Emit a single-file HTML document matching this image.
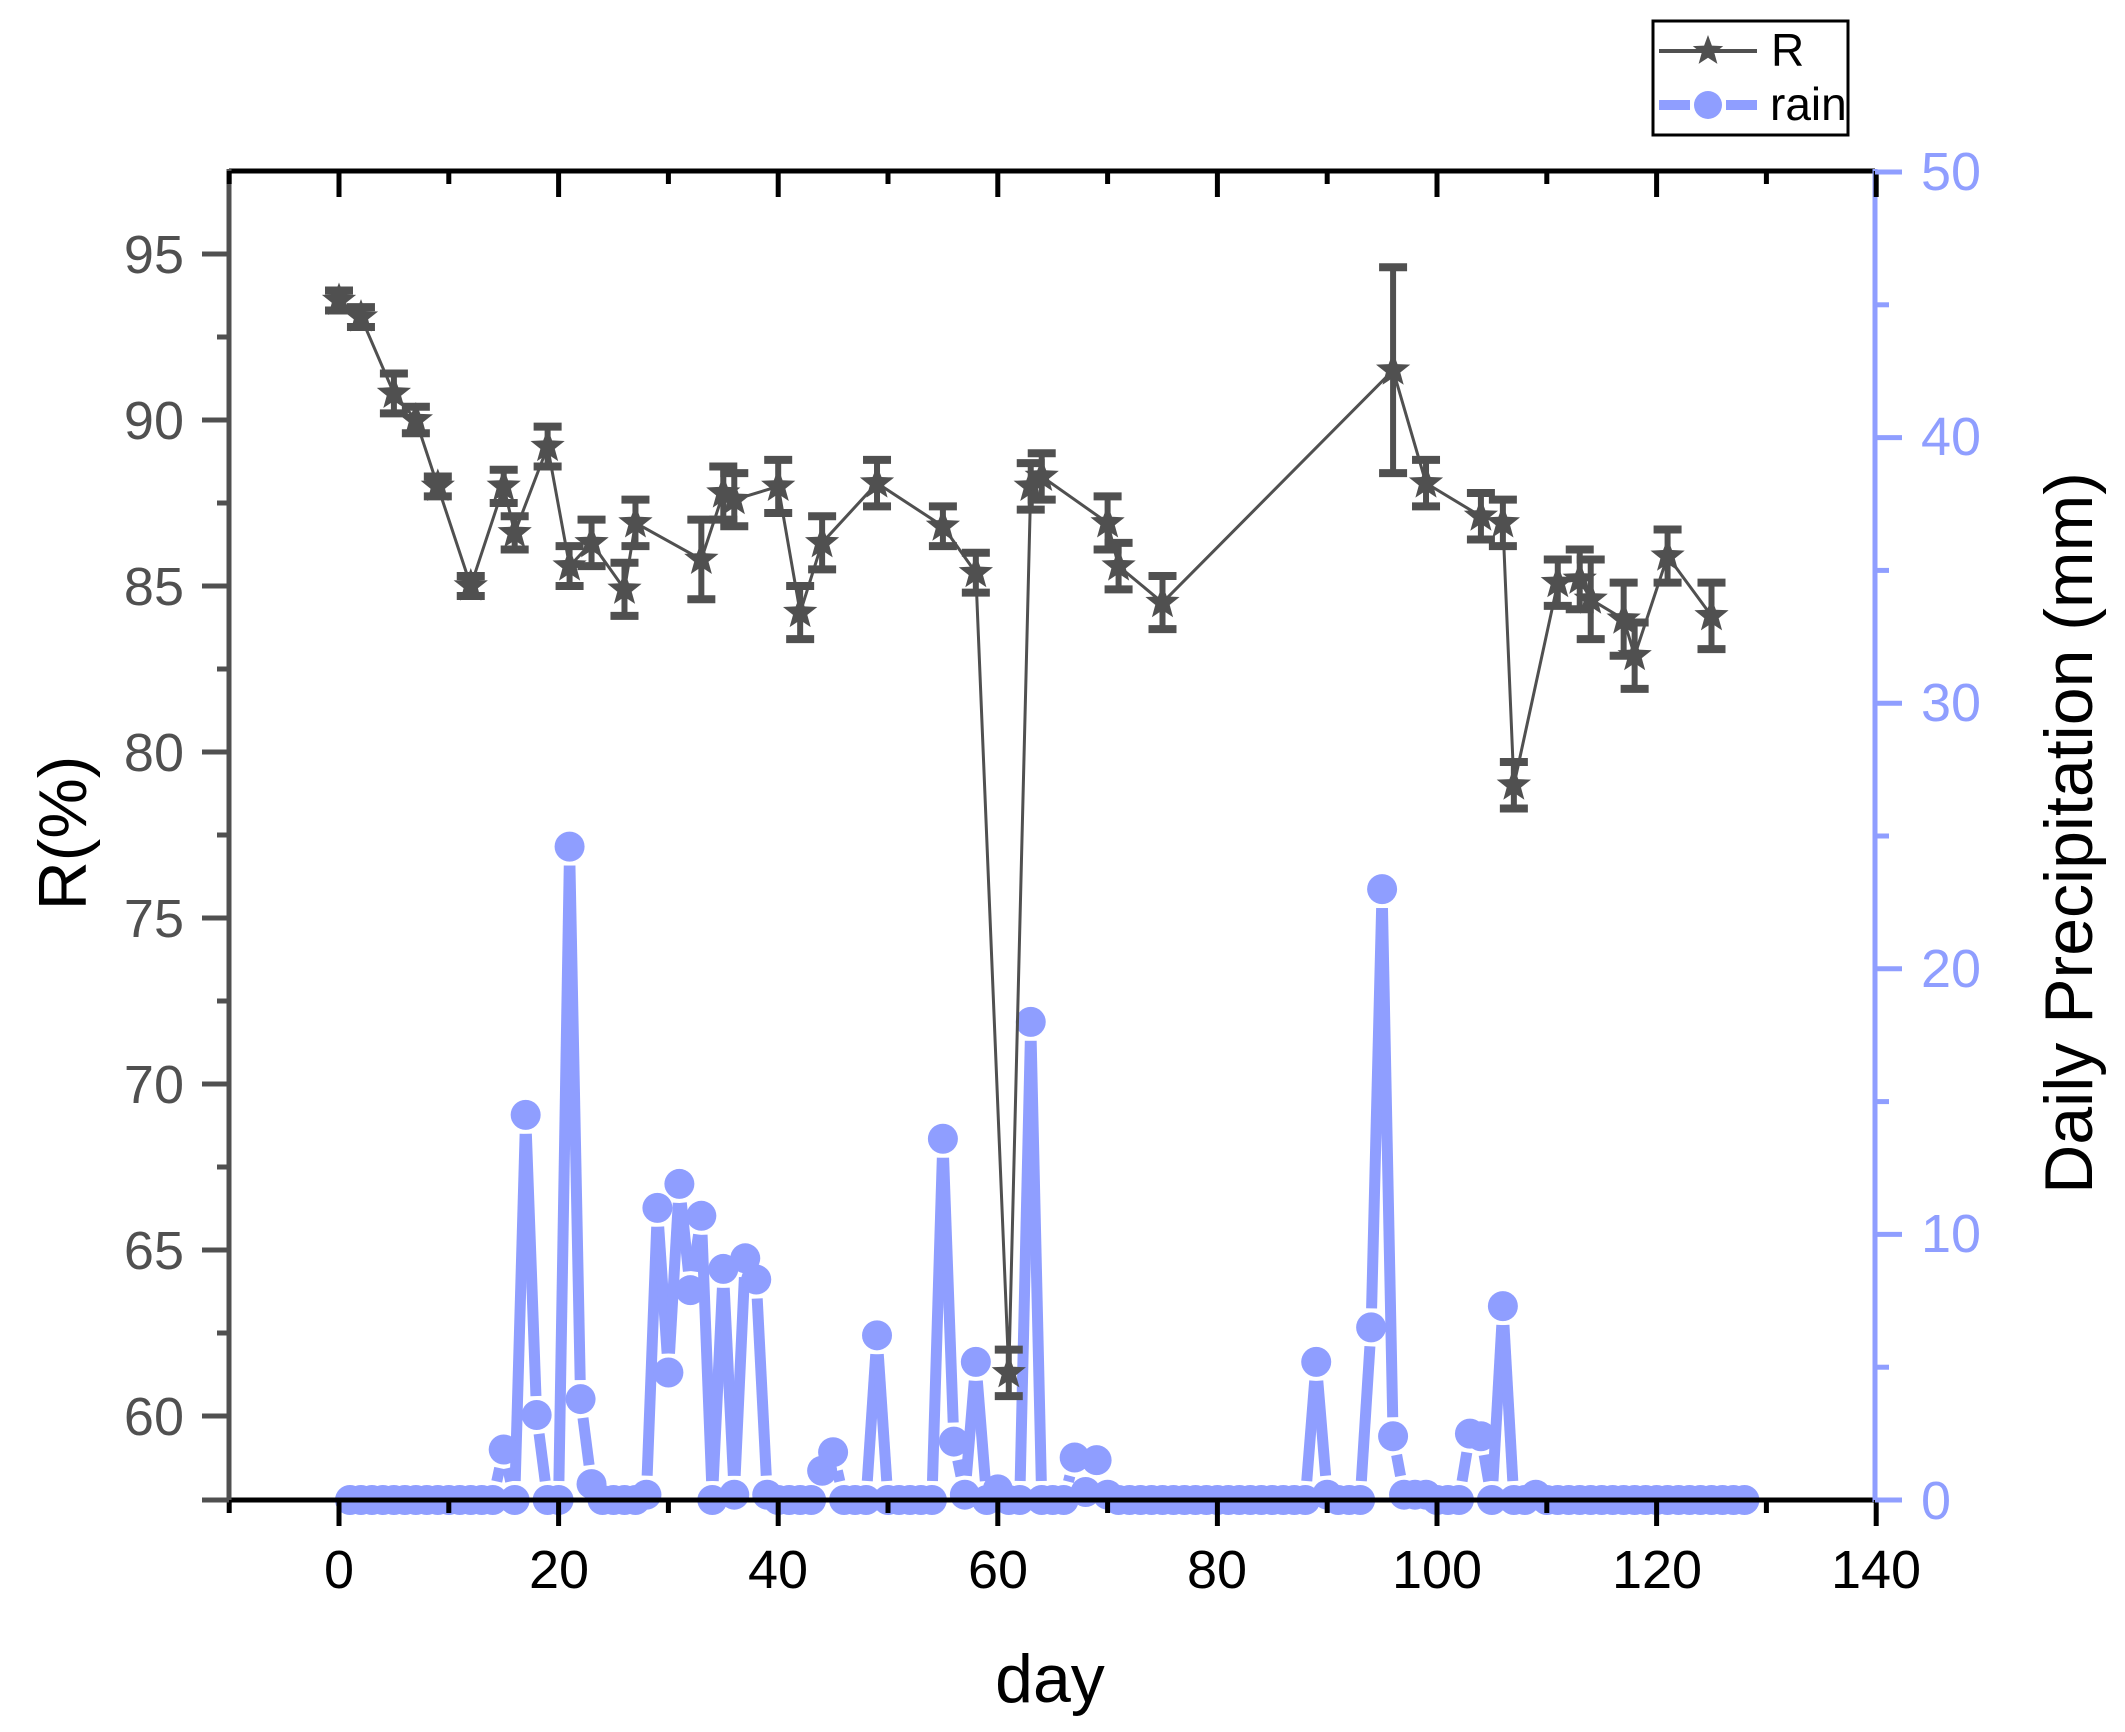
<!DOCTYPE html>
<html><head><meta charset="utf-8"><style>
html,body{margin:0;padding:0;background:#fff;}
svg{display:block;}
text{font-family:"Liberation Sans",Arial,sans-serif;}
</style></head><body>
<svg id="s" width="2125" height="1732" viewBox="0 0 2125 1732" xmlns="http://www.w3.org/2000/svg">
<rect width="2125" height="1732" fill="#fff"/>
<g id="data"></g>
<g id="axes"></g>
<g fill="#505050" font-size="54" text-anchor="end">
<text x="184" y="273">95</text>
<text x="184" y="439">90</text>
<text x="184" y="605">85</text>
<text x="184" y="771">80</text>
<text x="184" y="937">75</text>
<text x="184" y="1103">70</text>
<text x="184" y="1269">65</text>
<text x="184" y="1435">60</text>
</g>
<g fill="#8f9eff" font-size="54" text-anchor="start">
<text x="1921" y="190">50</text>
<text x="1921" y="455">40</text>
<text x="1921" y="721">30</text>
<text x="1921" y="987">20</text>
<text x="1921" y="1252">10</text>
<text x="1921" y="1519">0</text>
</g>
<g fill="#000" font-size="54" text-anchor="middle">
<text x="339" y="1588">0</text>
<text x="559" y="1588">20</text>
<text x="778" y="1588">40</text>
<text x="998" y="1588">60</text>
<text x="1217" y="1588">80</text>
<text x="1437" y="1588">100</text>
<text x="1657" y="1588">120</text>
<text x="1876" y="1588">140</text>
</g>
<text x="1050" y="1702" font-size="68" text-anchor="middle" fill="#000">day</text>
<text transform="translate(86,833) rotate(-90)" font-size="68" text-anchor="middle" fill="#000">R(%)</text>
<text transform="translate(2092,833) rotate(-90)" font-size="68" text-anchor="middle" fill="#000">Daily Precipitation (mm)</text>
<rect x="1653" y="21" width="195" height="114" fill="#fff" stroke="#000" stroke-width="3"/>
<line x1="1659" y1="51" x2="1757" y2="51" stroke="#505050" stroke-width="4"/>
<path id="lstar" fill="#505050"/>
<line x1="1659" y1="105" x2="1690" y2="105" stroke="#8f9eff" stroke-width="10"/>
<line x1="1726" y1="105" x2="1757" y2="105" stroke="#8f9eff" stroke-width="10"/>
<circle cx="1708" cy="105" r="14" fill="#8f9eff"/>
<text x="1771" y="66" font-size="46" fill="#000">R</text>
<text x="1770" y="120" font-size="46" fill="#000">rain</text>
</svg>
<script>
var NS="http://www.w3.org/2000/svg";
function el(p,t,a){var e=document.createElementNS(NS,t);for(var k in a)e.setAttribute(k,a[k]);p.appendChild(e);return e;}
function X(d){return 339+d*10.98;}
function YR(r){return 254+(95-r)*33.2;}
function YP(m){return 1500-m*26.56;}
function star(cx,cy,R){var r=R*0.42,s="";for(var i=0;i<10;i++){var a=-Math.PI/2+i*Math.PI/5,rr=i%2?r:R;s+=(i?"L":"M")+(cx+rr*Math.cos(a)).toFixed(1)+","+(cy+rr*Math.sin(a)).toFixed(1);}return s+"Z";}
document.getElementById("lstar").setAttribute("d",star(1708,51,16));
var D=document.getElementById("data"),A=document.getElementById("axes");
var rain={15:1.9,17:14.5,18:3.2,21:24.6,22:3.8,23:0.6,28:0.2,29:11.0,30:4.8,31:11.9,32:7.9,33:10.7,35:8.7,36:0.2,37:9.1,38:8.3,39:0.2,44:1.1,45:1.8,49:6.2,55:13.6,56:2.2,57:0.2,58:5.2,60:0.4,63:18.0,67:1.6,68:0.3,69:1.5,70:0.2,89:5.2,90:0.2,94:6.5,95:23.0,96:2.4,97:0.2,98:0.2,99:0.2,103:2.5,104:2.4,106:7.3,109:0.2};
var pts=[];for(var d=1;d<=128;d++){pts.push([X(d),YP(rain[d]||0)]);}
var gap=19,pc="#8f9eff";
for(var i=0;i<pts.length-1;i++){var a=pts[i],b=pts[i+1],dx=b[0]-a[0],dy=b[1]-a[1],L=Math.hypot(dx,dy);if(L<=2*gap)continue;var ux=dx/L,uy=dy/L;
el(D,"line",{x1:a[0]+ux*gap,y1:a[1]+uy*gap,x2:b[0]-ux*gap,y2:b[1]-uy*gap,stroke:pc,"stroke-width":11});}
pts.forEach(function(p){el(D,"circle",{cx:p[0],cy:p[1],r:15,fill:pc});});
var R=[[0,93.6,.3],[2,93.1,.3],[5,90.8,.6],[7,90.0,.4],[9,88.0,.3],[12,85.0,.3],[15,88.0,.5],[16,86.6,.5],[19,89.2,.6],[21,85.6,.6],[23,86.3,.7],[26,84.9,.8],[27,86.9,.7],[33,85.8,1.2],[35,87.8,.8],[36,87.6,.8],[40,88.0,.8],[42,84.2,.8],[44,86.3,.8],[49,88.1,.7],[55,86.8,.6],[58,85.4,.6],[61,61.3,.7],[63,88.0,.7],[64,88.3,.7],[70,86.9,.8],[71,85.6,.7],[75,84.5,.8],[96,91.5,3.1],[99,88.1,.7],[104,87.1,.7],[106,86.9,.7],[107,79.0,.7],[111,85.1,.7],[113,85.2,.9],[114,84.6,1.2],[117,84.0,1.1],[118,82.9,1.0],[121,85.9,.8],[125,84.1,1.0]];
var rc="#505050",s="";
R.forEach(function(p,i){s+=(i?"L":"M")+X(p[0]).toFixed(1)+","+YR(p[1]).toFixed(1);});
el(D,"path",{d:s,fill:"none",stroke:rc,"stroke-width":3});
R.forEach(function(p){var x=X(p[0]),y1=YR(p[1]+p[2]),y2=YR(p[1]-p[2]);
el(D,"line",{x1:x,y1:y1,x2:x,y2:y2,stroke:rc,"stroke-width":6});
el(D,"line",{x1:x-14,y1:y1,x2:x+14,y2:y1,stroke:rc,"stroke-width":8});
el(D,"line",{x1:x-14,y1:y2,x2:x+14,y2:y2,stroke:rc,"stroke-width":8});
el(D,"path",{d:star(x,YR(p[1]),18),fill:rc});});
el(A,"line",{x1:229,y1:171,x2:1875,y2:171,stroke:"#000","stroke-width":5});
el(A,"line",{x1:229,y1:1500,x2:1875,y2:1500,stroke:"#000","stroke-width":5});
el(A,"line",{x1:229,y1:169,x2:229,y2:1502,stroke:rc,"stroke-width":5});
el(A,"line",{x1:1875,y1:169,x2:1875,y2:1502,stroke:pc,"stroke-width":5});
for(var d=-10;d<=140;d+=10){var x=X(d),maj=(d%20==0);
el(A,"line",{x1:x,y1:1500,x2:x,y2:1500+(maj?26:13),stroke:"#000","stroke-width":5});
el(A,"line",{x1:x,y1:171,x2:x,y2:171+(maj?26:13),stroke:"#000","stroke-width":5});}
for(var v=60;v<=95;v+=2.5){var y=YR(v),maj=(v%5==0);
el(A,"line",{x1:229-(maj?27:12),y1:y,x2:229,y2:y,stroke:rc,"stroke-width":5});}
el(A,"line",{x1:202,y1:1500,x2:229,y2:1500,stroke:rc,"stroke-width":5});
for(var m=0;m<=50;m+=5){var y=YP(m),maj=(m%10==0);
el(A,"line",{x1:1875,y1:y,x2:1875+(maj?27:14),y2:y,stroke:pc,"stroke-width":5});}
</script>
</body></html>
